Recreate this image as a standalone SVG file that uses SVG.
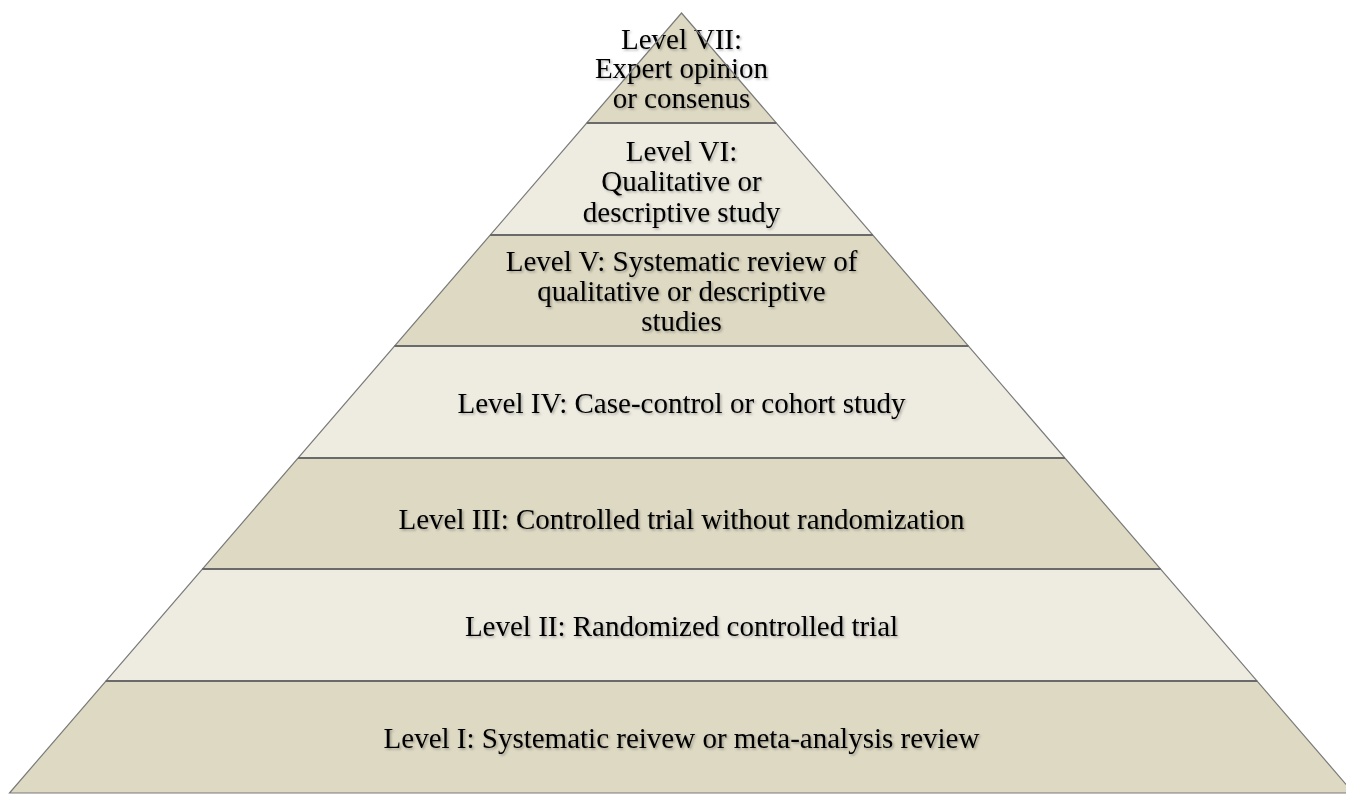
<svg xmlns="http://www.w3.org/2000/svg" width="1346" height="794" viewBox="0 0 1346 794">
  <defs>
    <filter id="ts" x="-10%" y="-30%" width="120%" height="160%">
      <feDropShadow dx="1.5" dy="1.5" stdDeviation="1.2" flood-color="#000" flood-opacity="0.3"/>
    </filter>
  </defs>
  <style>
    .dark { fill: #DDD9C3; }
    .light { fill: #EEECE1; }
    .edge { fill: none; stroke: #7a7a7a; stroke-width: 1.2; }
    .div { stroke: #6a6a6a; stroke-width: 1.8; }
    text { font-family: "Liberation Serif", "Times New Roman", serif; font-size: 29px; fill: #000; text-anchor: middle; filter: url(#ts); }
  </style>
  <rect x="0" y="0" width="1346" height="794" fill="#ffffff"/>

  <g id="level7">
    <polygon class="dark" points="681.5,13 776.3,123 586.7,123"/>
    <text x="681.5" y="48.5">Level VII:</text>
    <text x="681.5" y="78">Expert opinion</text>
    <text x="681.5" y="107.5">or consenus</text>
  </g>
  <g id="level6">
    <polygon class="light" points="586.7,123 776.3,123 872.9,235 490.1,235"/>
    <text x="681.5" y="160.5">Level VI:</text>
    <text x="681.5" y="191">Qualitative or</text>
    <text x="681.5" y="221.5">descriptive study</text>
  </g>
  <g id="level5">
    <polygon class="dark" points="490.1,235 872.9,235 968.5,346 394.5,346"/>
    <text x="681.5" y="271">Level V: Systematic review of</text>
    <text x="681.5" y="301">qualitative or descriptive</text>
    <text x="681.5" y="330.5">studies</text>
  </g>
  <g id="level4">
    <polygon class="light" points="394.5,346 968.5,346 1065,458 298,458"/>
    <text x="681.5" y="413">Level IV: Case-control or cohort study</text>
  </g>
  <g id="level3">
    <polygon class="dark" points="298,458 1065,458 1160.8,569 202.2,569"/>
    <text x="681.5" y="529">Level III: Controlled trial without randomization</text>
  </g>
  <g id="level2">
    <polygon class="light" points="202.2,569 1160.8,569 1257.3,681 105.7,681"/>
    <text x="681.5" y="636">Level II: Randomized controlled trial</text>
  </g>
  <g id="level1">
    <polygon class="dark" points="105.7,681 1257.3,681 1353.5,793 9.5,793"/>
    <text x="681.5" y="748">Level I: Systematic reivew or meta-analysis review</text>
  </g>

  <g id="outlines">
    <polygon class="edge" points="681.5,13 1353.5,793 9.5,793"/>
    <line class="div" x1="586.7" y1="123" x2="776.3" y2="123"/>
    <line class="div" x1="490.1" y1="235" x2="872.9" y2="235"/>
    <line class="div" x1="394.5" y1="346" x2="968.5" y2="346"/>
    <line class="div" x1="298" y1="458" x2="1065" y2="458"/>
    <line class="div" x1="202.2" y1="569" x2="1160.8" y2="569"/>
    <line class="div" x1="105.7" y1="681" x2="1257.3" y2="681"/>
  </g>
</svg>
